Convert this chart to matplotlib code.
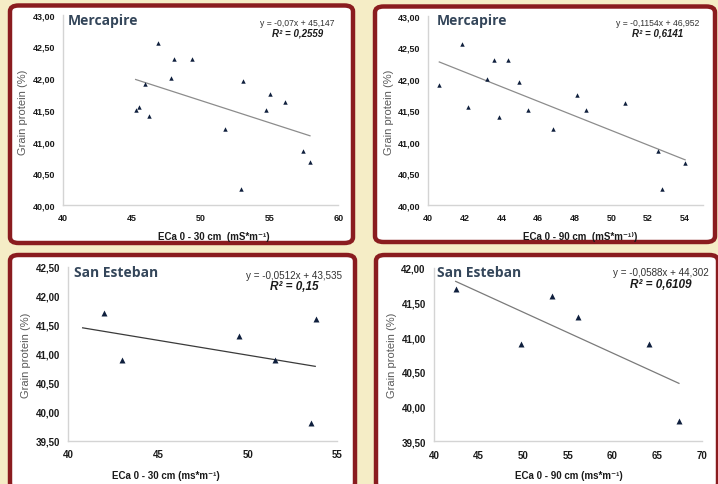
import numpy as np
import matplotlib
matplotlib.use("Agg")
import matplotlib.pyplot as plt
from matplotlib.patches import FancyBboxPatch
from matplotlib.ticker import FuncFormatter, MultipleLocator

plt.rcParams['font.family'] = ['Liberation Sans', 'DejaVu Sans']

W, H = 718, 485

# Mercapire, grain protein (%)
merc_protein = [41.50, 41.55, 41.90, 41.40, 42.55, 42.30, 42.00, 42.30,
                41.20, 41.95, 40.25, 41.50, 41.75, 41.62, 40.85, 40.67]
merc_eca30 = [45.26, 45.48, 45.94, 46.25, 46.86, 48.02, 47.83, 49.38,
              51.78, 53.09, 52.95, 54.74, 55.05, 56.12, 57.40, 57.92]
merc_eca90 = [45.45, 42.15, 40.60, 43.84, 41.85, 43.58, 43.20, 44.36,
              46.82, 44.96, 52.75, 48.60, 48.15, 50.73, 52.53, 54.04]

# San Esteban
se_protein = [41.70, 40.90, 41.30, 40.90, 41.60, 39.80]
se_eca30 = [41.97, 42.97, 49.50, 51.52, 53.81, 53.55]
se_eca90 = [42.47, 49.71, 56.10, 64.06, 53.19, 67.42]

panels = [
    dict(x=merc_eca30, y=merc_protein, title="Mercapire",
         slope=-0.07, icpt=45.147, eq="y = -0,07x + 45,147", r2="R² = 0,2559",
         xlabel="ECa 0 - 30 cm  (mS*m⁻¹)", xlim=(40, 60), xstep=5, ylim=(40, 43), ystep=0.5,
         line_x=(45.26, 57.94), line_c="#8c8c8c", ms=3.2, big=False,
         ax_px=(63.3, 338.3, 15.7, 206), box=(8, 355, 4.5, 246),
         title_px=(68, 21), eq_px=(297.5, 24, 34), yl_px=(23, 112), xl_px=(214, 237)),
    dict(x=merc_eca90, y=merc_protein, title="Mercapire",
         slope=-0.1154, icpt=46.952, eq="y = -0,1154x + 46,952", r2="R² = 0,6141",
         xlabel="ECa 0 - 90 cm  (mS*m⁻¹⁾)", xlim=(40, 55), xstep=2, ylim=(40, 43), ystep=0.5,
         line_x=(40.6, 54.04), line_c="#8c8c8c", ms=3.2, big=False,
         ax_px=(428.3, 702.7, 16.7, 206), box=(373, 717, 5.5, 245),
         title_px=(437, 21), eq_px=(658, 23, 33), yl_px=(389, 112), xl_px=(580, 237)),
    dict(x=se_eca30, y=se_protein, title="San Esteban",
         slope=-0.0512, icpt=43.535, eq="y = -0,0512x + 43,535", r2="R² = 0,15",
         xlabel="ECa 0 - 30 cm (ms*m⁻¹)", xlim=(40, 55), xstep=5, ylim=(39.5, 42.5), ystep=0.5,
         line_x=(40.8, 53.77), line_c="#3a3a3a", ms=4.3, big=True,
         ax_px=(68.3, 337.3, 267.7, 441.7), box=(8, 357, 254, 492),
         title_px=(74, 273), eq_px=(294.5, 275.7, 287.5), yl_px=(26, 355), xl_px=(166, 476)),
    dict(x=se_eca90, y=se_protein, title="San Esteban",
         slope=-0.0588, icpt=44.302, eq="y = -0,0588x + 44,302", r2="R² = 0,6109",
         xlabel="ECa 0 - 90 cm (ms*m⁻¹)", xlim=(40, 70), xstep=5, ylim=(39.5, 42), ystep=0.5,
         line_x=(42.43, 67.45), line_c="#7a7a7a", ms=4.3, big=True,
         ax_px=(434, 701.7, 269, 442.3), box=(374, 720, 254, 492),
         title_px=(437, 273), eq_px=(661, 273, 285), yl_px=(392, 355), xl_px=(569, 476)),
]


def fx(x):
    return x / W


def fy(y):
    return 1 - y / H


fig = plt.figure(figsize=(W / 100, H / 100), dpi=100)
fig.patch.set_facecolor("#f5edc6")

comma2 = FuncFormatter(lambda v, p: f"{v:.2f}".replace(".", ","))

for p in panels:
    bx0, bx1, by0, by1 = p["box"]
    box = FancyBboxPatch((fx(bx0 + 2), fy(by1 - 2)), fx(bx1 - bx0 - 4), (by1 - by0 - 4) / H,
                         boxstyle="round,pad=0,rounding_size=0.012",
                         transform=fig.transFigure, facecolor="white",
                         edgecolor="#8a1c1f", linewidth=3.2, zorder=-5)
    fig.patches.append(box)

    x0, x1, t, b = p["ax_px"]
    ax = fig.add_axes([fx(x0), fy(b), fx(x1 - x0), (b - t) / H])
    ax.set_facecolor("none")
    ax.set_xlim(*p["xlim"])
    ax.set_ylim(*p["ylim"])
    ax.xaxis.set_major_locator(MultipleLocator(p["xstep"]))
    ax.yaxis.set_major_locator(MultipleLocator(p["ystep"]))
    ax.yaxis.set_major_formatter(comma2)
    if p["xstep"] == 2:
        ax.set_xticks(np.arange(40, 55, 2))
    for s in ["top", "right"]:
        ax.spines[s].set_visible(False)
    for s in ["left", "bottom"]:
        ax.spines[s].set_color("#d4d4d4")
        ax.spines[s].set_linewidth(1.0)
    ax.tick_params(length=0, labelsize=6.5 if not p["big"] else 7, colors="#1a1a1a")
    ax.tick_params(axis="y", pad=6)
    ax.tick_params(axis="x", pad=6)
    for lab in ax.get_xticklabels() + ax.get_yticklabels():
        lab.set_fontweight("bold")

    ax.scatter(p["x"], p["y"], marker="^", s=p["ms"] ** 2, color="#0f1f3d", zorder=3,
               clip_on=False, linewidths=0)
    lx = np.array(p["line_x"])
    ax.plot(lx, p["slope"] * lx + p["icpt"], color=p["line_c"], lw=0.9, zorder=2)

    tx, ty = p["title_px"]
    fig.text(fx(tx), fy(ty), p["title"], fontsize=10,
             fontweight="bold", color="#34465a", family=["Open Sans", "DejaVu Sans"],
             ha="left", va="center")

    ex, ey1, ey2 = p["eq_px"]
    fig.text(fx(ex), fy(ey1), p["eq"], fontsize=7.1 if p["big"] else 6.2, color="#333333",
             ha="center", va="center")
    fig.text(fx(ex), fy(ey2), p["r2"], fontsize=8.5 if p["big"] else 7, color="#1a1a1a",
             fontweight="bold", fontstyle="italic", ha="center", va="center")

    yx, yy = p["yl_px"]
    fig.text(fx(yx), fy(yy), "Grain protein (%)", fontsize=8, color="#595959",
             rotation=90, ha="center", va="center")
    xx, xy = p["xl_px"]
    fig.text(fx(xx), fy(xy), p["xlabel"], fontsize=7, color="#1a1a1a",
             fontweight="bold", ha="center", va="center")

fig.savefig("out.png", dpi=100, facecolor=fig.get_facecolor())
